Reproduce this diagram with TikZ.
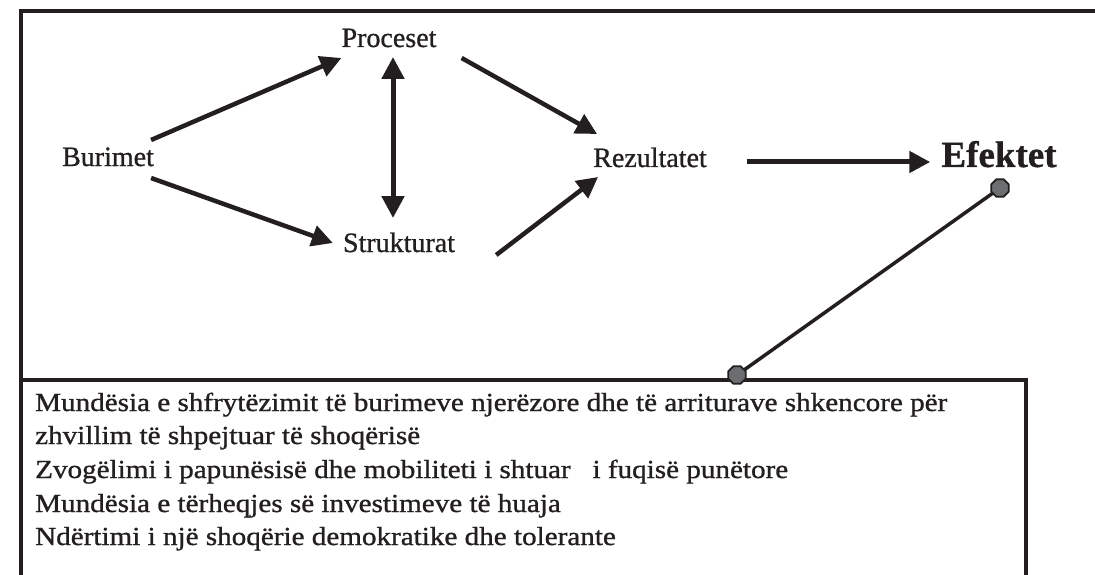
\documentclass[tikz,border=0pt]{standalone}
\usepackage{fontspec}
\setmainfont{Liberation Serif}[FakeBold=0.9]
\newfontfamily\widefont{Liberation Serif}[FakeStretch=1.12, FakeBold=1.0]
\usetikzlibrary{arrows.meta,shapes.geometric}
\definecolor{ink}{HTML}{231F20}
\definecolor{knob}{HTML}{6D6E70}
\begin{document}
\begin{tikzpicture}[x=1pt,y=-1pt,
  lbl/.style={font=\fontsize{28}{30}\selectfont, inner sep=0pt, anchor=base, text=ink},
  item/.style={font=\widefont\fontsize{26}{30}\selectfont, inner sep=0pt, anchor=base west, text=ink},
  flow/.style={draw=ink, line width=4.5pt, -{Triangle[length=21pt,width=21pt]}},
  twoway/.style={draw=ink, line width=5pt, {Triangle[length=22pt,width=22pt]}-{Triangle[length=22pt,width=22pt]}},
  knobend/.style={regular polygon, regular polygon sides=8, minimum size=19pt, inner sep=0pt,
    fill=knob, draw=ink, line width=1.8pt},
  frame/.style={draw=ink, line width=4pt},
  listbox/.style={draw=ink, line width=3.5pt}]
\useasboundingbox (0,0) rectangle (1095,575);

% outer frame
\draw[frame] (21,580) -- (21,11) -- (1100,11);

% concept labels
\node[lbl] (pro) at (389,47) {Proceset};
\node[lbl] (str) at (399,252) {Strukturat};
\node[lbl] (bur) at (108,166) {Burimet};
\node[lbl] (rez) at (650,167) {Rezultatet};
\node[lbl, font=\bfseries\fontsize{37}{40}\selectfont] (efe) at (999,167) {Efektet};

% flows between the concepts
\draw[flow] ([shift={(-3,-26)}]bur.base east) -- ([shift={(0,11)}]pro.base west);
\draw[flow] ([shift={(-3,12)}]bur.base east) -- ([shift={(-10,-9)}]str.base west);
\draw[twoway] ([shift={(4,10)}]pro.base) -- ([shift={(-6,-34)}]str.base);
\draw[flow] ([shift={(25,11)}]pro.base east) -- ([shift={(4,-33)}]rez.base west);
\draw[flow] ([shift={(41,3)}]str.base east) -- ([shift={(5,10)}]rez.base west);
\draw[flow, line width=5pt] ([shift={(40,-5)}]rez.base east) -- ([shift={(-11,-5)}]efe.base west);

% box listing the effects
\draw[listbox] (21,580) -- (21,380) -- (1026,380) -- (1026,580);
\coordinate (boxtop) at (737,375);
\node[item] (l1) at (35,411) {Mundësia e shfrytëzimit të burimeve njerëzore dhe të arriturave shkencore për};
\node[item] (l2) at (35,444) {zhvillim të shpejtuar të shoqërisë};
\node[item] (l3) at (35,478) {Zvogëlimi i papunësisë dhe mobiliteti i shtuar \ \ i fuqisë punëtore};
\node[item] (l4) at (35,512) {Mundësia e tërheqjes së investimeve të huaja};
\node[item] (l5) at (35,545) {Ndërtimi i një shoqërie demokratike dhe tolerante};

% pointer from the effects to the list
\coordinate (efetip) at ([shift={(1,21)}]efe.base);
\draw[ink, line width=3.5pt] (efetip) -- (boxtop);
\node[knobend] (k1) at (efetip) {};
\node[knobend] (k2) at (boxtop) {};
\end{tikzpicture}
\end{document}
